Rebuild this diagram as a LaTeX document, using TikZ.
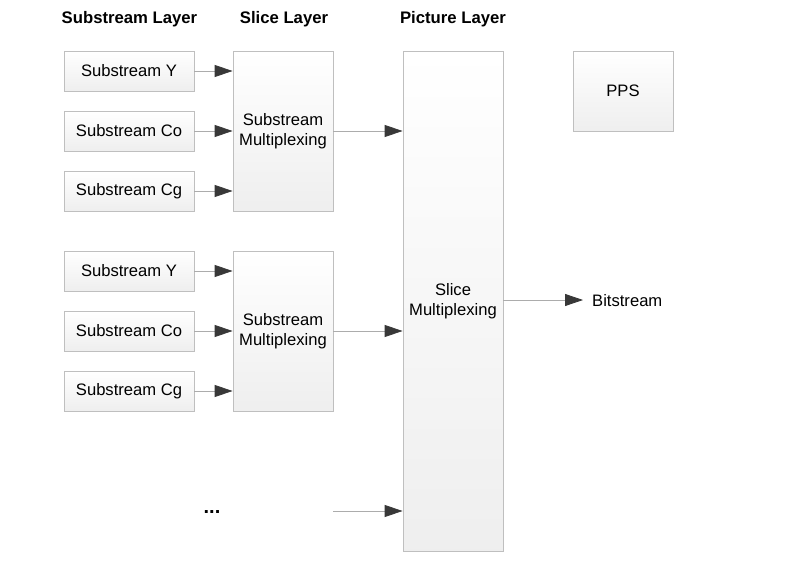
\documentclass[tikz,border=0pt]{standalone}
\usepackage{fontspec}
\setmainfont{Liberation Sans}
\usetikzlibrary{arrows.meta}
\tikzset{
  box/.style={draw=gray!50, line width=0.8pt, top color=white, bottom color=gray!13, inner sep=0pt, align=center, font=\fontsize{16.6}{20}\selectfont},
  subbox/.style={box, minimum width=130pt, minimum height=40pt},
  slicebox/.style={box, minimum width=100pt, minimum height=160pt},
  head/.style={font=\fontsize{16.7}{20}\selectfont\bfseries, inner sep=0pt},
  lbl/.style={font=\fontsize{16.6}{20}\selectfont, inner sep=0pt},
  conn/.style={draw=gray!65, line width=0.8pt, -{Triangle[length=18pt,width=12pt,color=black!78]}}
}
\begin{document}
\begin{tikzpicture}[x=1pt,y=-1pt]
\useasboundingbox (0,0) rectangle (808,564);
% headers
\node[head] (h1) at (129.5,19.5) {Substream Layer};
\node[head] (h2) at (284,19.5) {Slice Layer};
\node[head] (h3) at (453,19.5) {Picture Layer};
% substream boxes group 1
\node[subbox] (y1) at (129,71) {Substream Y};
\node[subbox] (co1) at (129,131) {Substream Co};
\node[subbox] (cg1) at (129,191) {Substream Cg};
% group 2
\node[subbox] (y2) at (129,271) {Substream Y};
\node[subbox] (co2) at (129,331) {Substream Co};
\node[subbox] (cg2) at (129,391) {Substream Cg};
% slice boxes
\node[slicebox] (s1) at (283,131) {Substream\\[0pt]Multiplexing};
\node[slicebox] (s2) at (283,331) {Substream\\[0pt]Multiplexing};
% picture box
\node[box, minimum width=100pt, minimum height=500pt] (pic) at (453,301) {Slice\\[0pt]Multiplexing};
% PPS
\node[box, minimum width=100pt, minimum height=80pt] (pps) at (623,91) {PPS};
% bitstream
\node[lbl, anchor=west] (bs) at (592,300.5) {Bitstream};
\coordinate (bsin) at (583,300);
% dots
\node[lbl, font=\fontsize{20}{20}\selectfont\bfseries] (dots) at (212,512) {...};
\coordinate (dstart) at (333,511);
% connectors
\draw[conn] (y1.east) -- (y1.east -| s1.west);
\draw[conn] (co1.east) -- (co1.east -| s1.west);
\draw[conn] (cg1.east) -- (cg1.east -| s1.west);
\draw[conn] (y2.east) -- (y2.east -| s2.west);
\draw[conn] (co2.east) -- (co2.east -| s2.west);
\draw[conn] (cg2.east) -- (cg2.east -| s2.west);
\draw[conn] (s1.east) -- (s1.east -| pic.west);
\draw[conn] (s2.east) -- (s2.east -| pic.west);
\draw[conn] (dstart) -- (dstart -| pic.west);
\draw[conn] (pic.east |- bsin) -- (bsin);
\end{tikzpicture}
\end{document}
